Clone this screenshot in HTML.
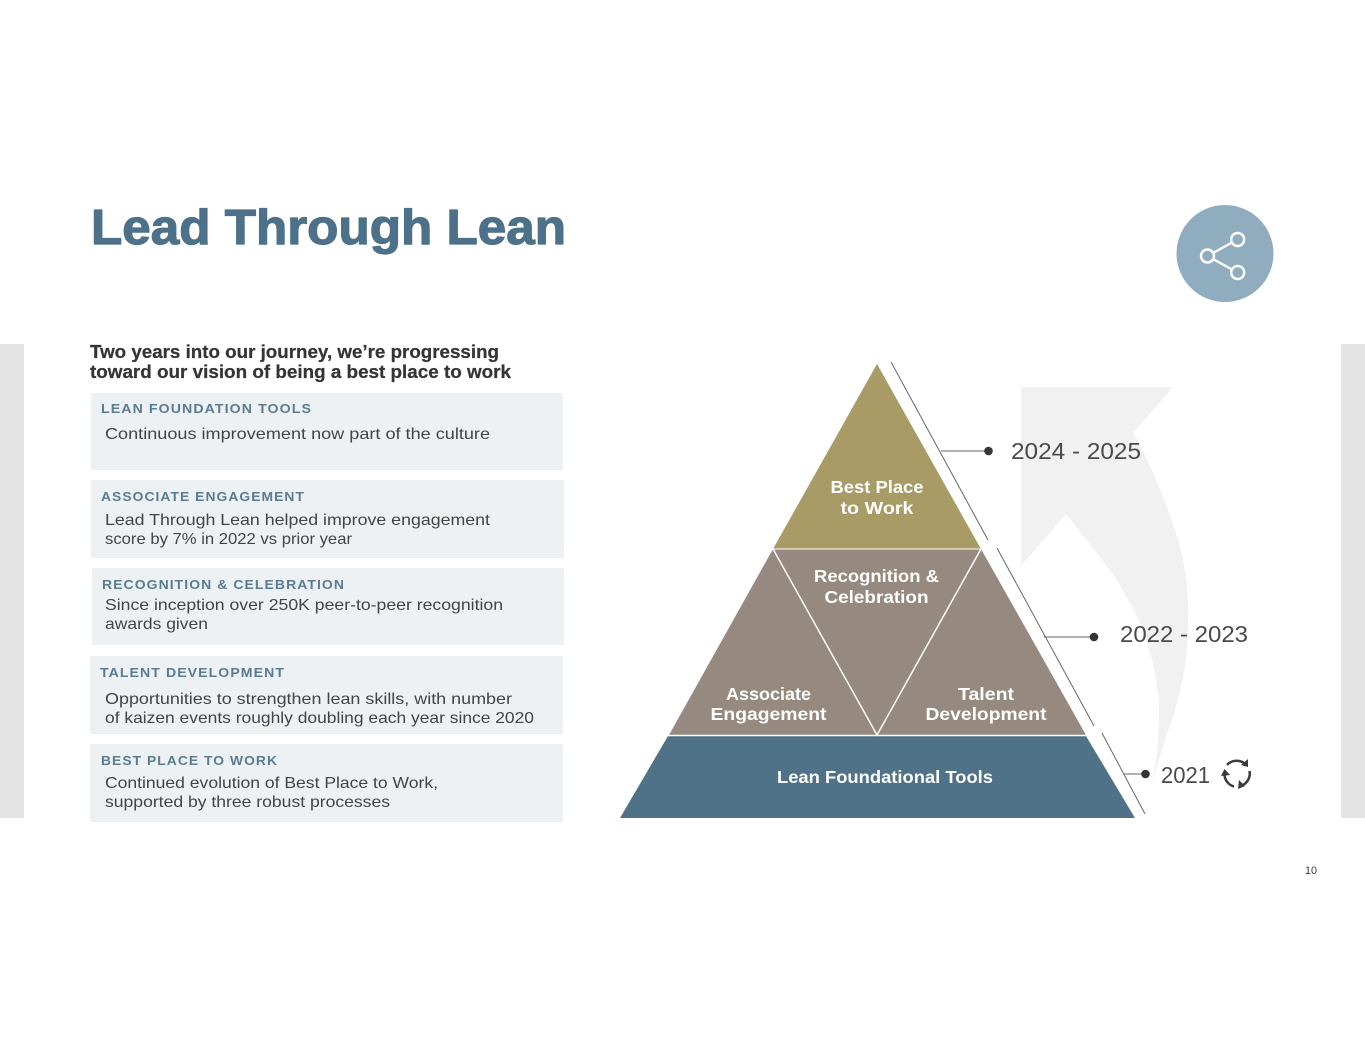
<!DOCTYPE html>
<html lang="en">
<head>
<meta charset="utf-8">
<title>Lead Through Lean</title>
<style>
html,body{margin:0;padding:0;background:#fff;width:1365px;height:1055px;overflow:hidden}
svg{display:block}
text{font-family:"Liberation Sans","DejaVu Sans",sans-serif}
.b{font-size:16px;fill:#444}
.h{font-size:13px;font-weight:700;fill:#5a7c92;letter-spacing:1px}
.s{font-size:18.500px;font-weight:700;fill:#353535;stroke:#353535;stroke-width:.25}
.w{font-size:17.500px;font-weight:700;fill:#fff}
.y{font-size:23.500px;fill:#4a4a4a}
</style>
</head>
<body>
<svg width="1365" height="1055" viewBox="0 0 1365 1055" xmlns="http://www.w3.org/2000/svg">
<rect width="1365" height="1055" fill="#fff"/>
<rect x="0" y="344" width="24" height="474" fill="#e4e4e4"/>
<rect x="1341" y="344" width="24" height="474" fill="#e4e4e4"/>

<path d="M1021 387H1173L1133 433C1146 453 1170 510 1180 547C1186 570 1188 590 1188 610C1188 640 1187 660 1183 677C1178 700 1173 720 1167 733C1161 755 1155 772 1150 787C1155 770 1158 755 1158 737C1159 722 1160 708 1158 693C1156 680 1154 665 1150 653C1145 635 1140 620 1130 603C1122 588 1112 572 1100 557L1066 514L1021 566Z" fill="#f1f1f2"/>

<text x="91" y="244" font-size="49" font-weight="700" fill="#4c7189" stroke="#4c7189" stroke-width="1.200" textLength="475" lengthAdjust="spacingAndGlyphs">Lead Through Lean</text>

<circle cx="1225" cy="253.500" r="48.500" fill="#8fadbf"/>
<g fill="#8fadbf" stroke="#fff" stroke-width="2.400">
<path d="M1207.500 256L1237.500 239.500M1207.500 256L1237.500 272.500" fill="none"/>
<circle cx="1207.500" cy="256" r="6.500"/>
<circle cx="1237.700" cy="239.500" r="6.500"/>
<circle cx="1237.700" cy="272.500" r="6.500"/>
</g>

<text class="s" x="90" y="358" textLength="409" lengthAdjust="spacingAndGlyphs">Two years into our journey, we’re progressing</text>
<text class="s" x="90" y="378" textLength="421" lengthAdjust="spacingAndGlyphs">toward our vision of being a best place to work</text>

<rect x="91" y="393" width="472" height="77" fill="#edf1f4"/>
<rect x="91" y="480" width="473" height="78" fill="#edf1f4"/>
<rect x="92" y="568" width="472" height="77" fill="#edf1f4"/>
<rect x="90" y="656" width="473" height="78" fill="#edf1f4"/>
<rect x="90" y="744" width="473" height="78" fill="#edf1f4"/>

<text class="h" x="101" y="413" textLength="211" lengthAdjust="spacingAndGlyphs">LEAN FOUNDATION TOOLS</text>
<text class="b" x="105" y="439" textLength="385" lengthAdjust="spacingAndGlyphs">Continuous improvement now part of the culture</text>

<text class="h" x="101" y="501" textLength="204" lengthAdjust="spacingAndGlyphs">ASSOCIATE ENGAGEMENT</text>
<text class="b" x="105" y="525" textLength="385" lengthAdjust="spacingAndGlyphs">Lead Through Lean helped improve engagement</text>
<text class="b" x="105" y="544" textLength="247" lengthAdjust="spacingAndGlyphs">score by 7% in 2022 vs prior year</text>

<text class="h" x="102" y="589" textLength="243" lengthAdjust="spacingAndGlyphs">RECOGNITION &amp; CELEBRATION</text>
<text class="b" x="105" y="610" textLength="398" lengthAdjust="spacingAndGlyphs">Since inception over 250K peer-to-peer recognition</text>
<text class="b" x="105" y="629" textLength="103" lengthAdjust="spacingAndGlyphs">awards given</text>

<text class="h" x="100" y="677" textLength="185" lengthAdjust="spacingAndGlyphs">TALENT DEVELOPMENT</text>
<text class="b" x="105" y="704" textLength="407" lengthAdjust="spacingAndGlyphs">Opportunities to strengthen lean skills, with number</text>
<text class="b" x="105" y="723" textLength="429" lengthAdjust="spacingAndGlyphs">of kaizen events roughly doubling each year since 2020</text>

<text class="h" x="101" y="765" textLength="177" lengthAdjust="spacingAndGlyphs">BEST PLACE TO WORK</text>
<text class="b" x="105" y="788" textLength="333" lengthAdjust="spacingAndGlyphs">Continued evolution of Best Place to Work,</text>
<text class="b" x="105" y="807" textLength="285" lengthAdjust="spacingAndGlyphs">supported by three robust processes</text>

<polygon points="877,364 981,549 773,549" fill="#a89b66"/>
<polygon points="773,549 981,549 1086,735 669,735" fill="#96897f"/>
<polygon points="668,736 1086,736 1135,818 620,818" fill="#4f7289"/>
<g stroke="#fff" stroke-width="1.500" fill="none">
<path d="M668 735.500H1087M773 549L877 735L981 549"/>
<path d="M773 549H981" stroke-width="1"/>
</g>

<text class="w" x="877" y="493" text-anchor="middle" textLength="93" lengthAdjust="spacingAndGlyphs">Best Place</text>
<text class="w" x="877" y="514" text-anchor="middle" textLength="73" lengthAdjust="spacingAndGlyphs">to Work</text>
<text class="w" x="876.500" y="582" text-anchor="middle" textLength="125" lengthAdjust="spacingAndGlyphs">Recognition &amp;</text>
<text class="w" x="876.500" y="603" text-anchor="middle" textLength="104" lengthAdjust="spacingAndGlyphs">Celebration</text>
<text class="w" x="768.500" y="700" text-anchor="middle" textLength="85" lengthAdjust="spacingAndGlyphs">Associate</text>
<text class="w" x="768.500" y="720" text-anchor="middle" textLength="116" lengthAdjust="spacingAndGlyphs">Engagement</text>
<text class="w" x="986" y="700" text-anchor="middle" textLength="56" lengthAdjust="spacingAndGlyphs">Talent</text>
<text class="w" x="986" y="720" text-anchor="middle" textLength="121" lengthAdjust="spacingAndGlyphs">Development</text>
<text class="w" x="885" y="783" text-anchor="middle" textLength="216" lengthAdjust="spacingAndGlyphs">Lean Foundational Tools</text>

<g stroke="#666" stroke-width="1" fill="none">
<path d="M891 362L988 540"/>
<path d="M997 548L1094 726"/>
<path d="M1102 733L1145 814"/>
<path d="M941 451H988"/>
<path d="M1044 637H1094"/>
<path d="M1124 774H1145"/>
</g>
<circle cx="988.500" cy="451" r="4.300" fill="#353535"/>
<circle cx="1094" cy="637" r="4.300" fill="#353535"/>
<circle cx="1145.500" cy="774" r="4.300" fill="#353535"/>

<text class="y" x="1011" y="459" textLength="130" lengthAdjust="spacingAndGlyphs">2024 - 2025</text>
<text class="y" x="1120" y="642" textLength="128" lengthAdjust="spacingAndGlyphs">2022 - 2023</text>
<text class="y" x="1161" y="783" textLength="49" lengthAdjust="spacingAndGlyphs">2021</text>

<g fill="none" stroke="#3a3a3a" stroke-width="2.500">
<path d="M1227 765A13 13 0 0 1 1244 763"/>
<path d="M1249.500 771A13 13 0 0 1 1242 785.500"/>
<path d="M1234 786.500A13 13 0 0 1 1224.500 775"/>
</g>
<g fill="#3a3a3a">
<polygon points="1248,759 1248,767 1241,765"/>
<polygon points="1239,780 1245,786 1238,789"/>
<polygon points="1224.500,769 1230,775 1221,776"/>
</g>

<text x="1305" y="874" font-size="11" fill="#3a3a3a" textLength="12" lengthAdjust="spacingAndGlyphs">10</text>
</svg>
</body>
</html>
